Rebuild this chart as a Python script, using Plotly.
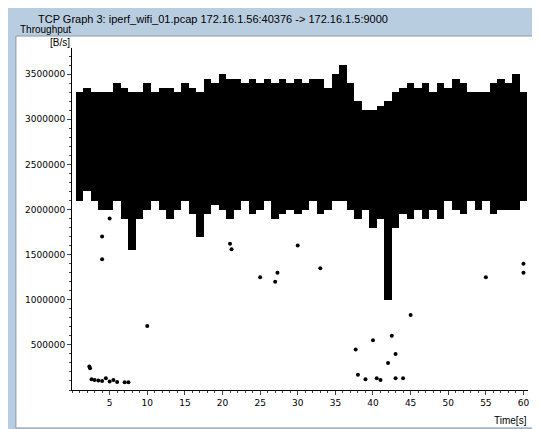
import plotly.graph_objects as go

seconds = list(range(1, 61))
band_low = [2.1,2.2,2.1,2.0,2.0,2.1,1.9,1.55,1.9,2.0,2.1,2.0,1.9,2.0,2.1,1.95,1.7,1.95,2.05,2.0,
            1.9,2.0,2.1,1.95,2.0,2.1,1.9,1.95,2.0,1.95,2.0,2.1,1.95,2.0,2.1,2.1,2.0,1.9,2.0,1.8,
            1.9,1.0,1.8,1.95,1.9,2.0,1.9,2.0,1.9,2.1,2.0,1.95,2.1,2.0,2.1,1.95,2.0,2.0,2.0,2.1]
band_high = [3.3,3.35,3.3,3.3,3.3,3.4,3.35,3.3,3.3,3.4,3.3,3.35,3.35,3.3,3.4,3.35,3.3,3.45,3.4,3.5,
             3.45,3.45,3.4,3.45,3.4,3.45,3.4,3.45,3.4,3.45,3.4,3.45,3.45,3.35,3.5,3.6,3.4,3.2,3.1,3.1,
             3.15,3.2,3.3,3.35,3.4,3.35,3.4,3.3,3.4,3.35,3.45,3.4,3.3,3.3,3.3,3.4,3.45,3.4,3.5,3.3]
out_t = [2.3,2.4,2.6,3,3.5,4,4.5,5,5.5,6,7,7.5,10,4,4,5,21,21.2,25,27,27.3,30,33,37.7,38,39,40,40.5,
         41,42,42.5,43,43,44,45,55,60,60]
out_v = [260000,240000,120000,110000,105000,100000,130000,95000,110000,90000,85000,85000,710000,
         1700000,1450000,1900000,1620000,1560000,1250000,1200000,1300000,1600000,1350000,450000,
         170000,120000,550000,130000,110000,300000,600000,400000,130000,130000,830000,1250000,
         1300000,1400000]

fig = go.Figure()
fig.add_trace(go.Bar(x=seconds, base=[v*1e6 for v in band_low],
                     y=[(h-l)*1e6 for h, l in zip(band_high, band_low)],
                     width=1.0, marker_color='black', marker_line_width=0))
fig.add_trace(go.Scatter(x=out_t, y=out_v, mode='markers',
                         marker=dict(color='black', size=4)))

fig.update_layout(
    width=540, height=429, showlegend=False, bargap=0,
    margin=dict(l=64, r=20, t=40, b=47),
    paper_bgcolor='#b9cde0', plot_bgcolor='white',
    font=dict(family='DejaVu Sans', size=9, color='black'),
    xaxis=dict(range=[0, 60.6], tickvals=list(range(5, 61, 5)), ticks='outside', ticklen=4,
               showgrid=False, zeroline=False, showline=True, linecolor='black',
               minor=dict(ticks='outside', ticklen=2, dtick=1, tick0=0)),
    yaxis=dict(range=[0, 3.79e6], tickvals=[500000*i for i in range(1, 8)], ticks='outside',
               ticklen=4, tickformat='d', showgrid=False, zeroline=False, showline=True,
               linecolor='black', minor=dict(ticks='outside', ticklen=2, dtick=100000)),
    shapes=[dict(type='rect', xref='paper', yref='paper', x0=-0.123, x1=1.022, y0=-0.111, y1=1.035,
                 fillcolor='white', line=dict(color='#8899aa', width=1), layer='below')],
    annotations=[
        dict(text='TCP Graph 3: iperf_wifi_01.pcap 172.16.1.56:40376 -> 172.16.1.5:9000',
             xref='paper', yref='paper', x=-0.079, y=1.085, xanchor='left', yanchor='middle',
             showarrow=False, font=dict(size=11, family='Liberation Sans')),
        dict(text='Throughput', xref='paper', yref='paper', x=-0.118, y=1.055, xanchor='left',
             yanchor='middle', showarrow=False, font=dict(size=10, family='Liberation Sans')),
        dict(text='[B/s]', xref='paper', yref='paper', x=-0.053, y=1.015, xanchor='left',
             yanchor='middle', showarrow=False, font=dict(size=10, family='Liberation Sans')),
        dict(text='Time[s]', xref='paper', yref='paper', x=0.92, y=-0.09, xanchor='left',
             yanchor='middle', showarrow=False, font=dict(size=10, family='Liberation Sans')),
    ])
fig.write_html('out.html')
